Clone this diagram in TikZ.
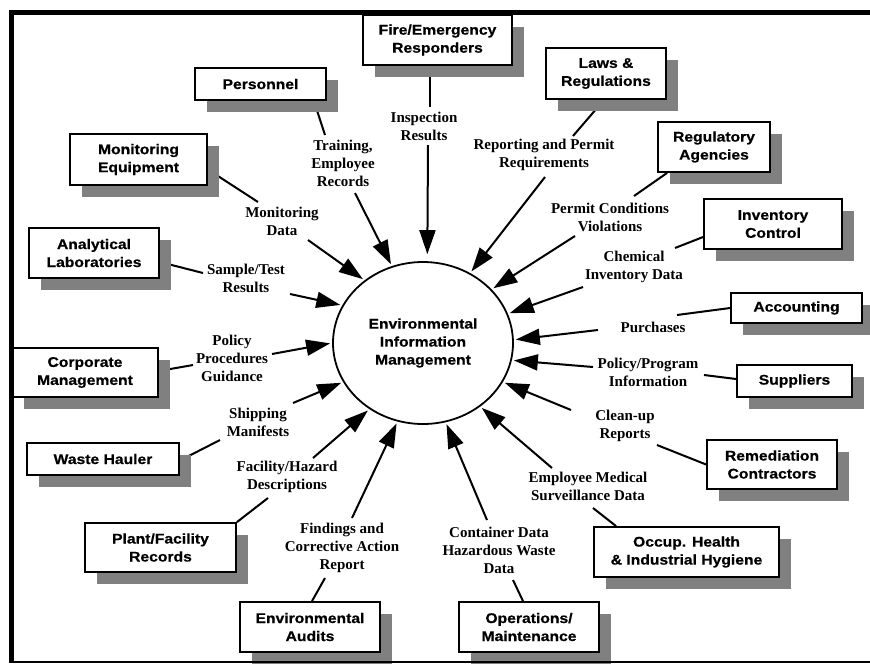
\documentclass[tikz,border=0pt]{standalone}
\usepackage{fontspec}
\setmainfont{Liberation Serif}
\newfontfamily\boxfont{Liberation Sans}[FakeStretch=1.12,FakeBold=0.6]
\usetikzlibrary{arrows.meta,shadows,calc,backgrounds,shapes.geometric}
\tikzset{
  ebox/.style={draw, line width=1.8pt, fill=white, align=center, inner sep=0pt,
    font=\boxfont\bfseries\fontsize{14}{18}\selectfont,
    drop shadow={shadow xshift=12pt, shadow yshift=-12pt, fill=black!50, opacity=1}},
  lab/.style={align=center, inner sep=0pt, font=\bfseries\fontsize{15}{18}\selectfont},
  conn/.style={line width=2pt},
  arr/.style={line width=2pt, -{Triangle[length=24pt,width=16pt]}, shorten >=2pt}
}
\begin{document}
\begin{tikzpicture}[x=1pt,y=-1pt]
\useasboundingbox (0,0) rectangle (870,665);
% central process
\node[draw, ellipse, line width=1.8pt, minimum width=180pt, minimum height=162pt, inner sep=0pt,
  align=center, font=\boxfont\bfseries\fontsize{14}{18}\selectfont] (eim) at (423,343)
  {Environmental\\Information\\Management};
% external entities
\node[ebox, minimum width=149pt, minimum height=50pt] (fire) at (437.5,40) {Fire/Emergency\\Responders};
\node[ebox, minimum width=131pt, minimum height=32pt] (pers) at (260.5,84) {Personnel};
\node[ebox, minimum width=137pt, minimum height=51pt] (mon) at (138.5,159.5) {Monitoring\\Equipment};
\node[ebox, minimum width=130pt, minimum height=50pt] (anal) at (94,253) {Analytical\\Laboratories};
\node[ebox, minimum width=120pt, minimum height=51pt] (laws) at (606,73.5) {Laws \&\\Regulations};
\node[ebox, minimum width=112pt, minimum height=50pt] (reg) at (714,147) {Regulatory\\Agencies};
\node[ebox, minimum width=138pt, minimum height=50pt] (inv) at (773,224) {Inventory\\Control};
\node[ebox, minimum width=131pt, minimum height=30pt] (acct) at (796.5,308) {Accounting};
\node[ebox, minimum width=115pt, minimum height=32pt] (supp) at (794.5,381) {Suppliers};
\node[ebox, minimum width=130pt, minimum height=49pt] (rem) at (772,464.5) {Remediation\\Contractors};
\node[ebox, minimum width=185pt, minimum height=50pt] (occ) at (686.5,552) {Occup. Health\\\& Industrial Hygiene};
\node[ebox, minimum width=140pt, minimum height=50pt] (ops) at (529,627) {Operations/\\Maintenance};
\node[ebox, minimum width=146pt, minimum height=49pt] (corp) at (85,372.5) {Corporate\\Management};
\node[ebox, minimum width=152pt, minimum height=32pt] (waste) at (103,459) {Waste Hauler};
\node[ebox, minimum width=151pt, minimum height=49pt] (plant) at (160.5,547.5) {Plant/Facility\\Records};
\node[ebox, minimum width=140pt, minimum height=50pt] (audit) at (310,627) {Environmental\\Audits};
% flow labels
\node[lab] (insp) at (424,126) {Inspection\\Results};
\node[lab] (train) at (343,163) {Training,\\Employee\\Records};
\node[lab] (mdata) at (282,221) {Monitoring\\Data};
\node[lab] (sample) at (246,278) {Sample/Test\\Results};
\node[lab] (pol) at (232,358) {Policy\\Procedures\\Guidance};
\node[lab] (ship) at (258,422) {Shipping\\Manifests};
\node[lab] (fac) at (287,477) {Facility/Hazard\\Descriptions};
\node[lab] (find) at (342,548) {Findings and\\Corrective Action\\Report};
\node[lab] (cont) at (499,550) {Container Data\\Hazardous Waste\\Data};
\node[lab] (emp) at (588,486) {Employee Medical\\Surveillance Data};
\node[lab] (clean) at (625,426) {Clean-up\\Reports};
\node[lab] (pp) at (648,372) {Policy/Program\\Information};
\node[lab] (purch) at (653,327) {Purchases};
\node[lab] (chem) at (634,267) {Chemical\\Inventory Data};
\node[lab] (perm) at (610,217) {Permit Conditions\\Violations};
\node[lab] (rep) at (544,155) {Reporting and Permit\\Requirements};
% connectors
\begin{scope}[on background layer]
\draw[conn] ($(fire.south)+(-7.5,0)$) -- ($(insp)+(6,-19)$);
\draw[arr, shorten >=7pt] ($(insp)+(4,19)$) -- (eim.87);
\draw[conn] ($(pers.south east)+(-13,0)$) -- ($(train)+(-18,-28)$);
\draw[arr] ($(train)+(12,30)$) -- (eim.112);
\draw[conn] ($(mon.east)+(0,10)$) -- ($(mdata)+(-24,-19)$);
\draw[arr] ($(mdata)+(26,19)$) -- (eim.133);
\draw[conn] ($(anal.east)+(0,9)$) -- ($(sample)+(-43,-5)$);
\draw[arr] ($(sample)+(44,16)$) -- (eim.155);
\draw[conn] ($(corp.east)+(0,-1.5)$) -- ($(pol)+(-39,7)$);
\draw[arr] ($(pol)+(40,-4)$) -- (eim.180);
\draw[conn] ($(waste.east)+(0,1.5)$) -- ($(ship)+(-38,18)$);
\draw[arr] ($(ship)+(35,-19)$) -- (eim.206);
\draw[conn] (plant.north east) -- ($(fac)+(-19,21)$);
\draw[arr] ($(fac)+(26,-19)$) -- (eim.231);
\draw[conn] ($(audit.north)+(2,0)$) -- ($(find)+(-17,30)$);
\draw[arr] ($(find)+(10,-30)$) -- (eim.252);
\draw[conn] ($(ops.north)+(-6,0)$) -- ($(cont)+(14,30)$);
\draw[arr] ($(cont)+(-12,-30)$) -- (eim.286);
\draw[conn] ($(occ.north west)+(23,0)$) -- ($(emp)+(5,22)$);
\draw[arr] ($(emp)+(-36,-18)$) -- (eim.312);
\draw[conn] (rem.west) -- ($(clean)+(32,19)$);
\draw[arr] ($(clean)+(-54,-16)$) -- (eim.334);
\draw[conn] ($(supp.west)+(0,-2)$) -- ($(pp)+(56,3)$);
\draw[arr] ($(pp)+(-55,-5)$) -- (eim.349);
\draw[conn] (acct.west) -- ($(purch)+(24,-12)$);
\draw[arr] ($(purch)+(-55,3)$) -- (eim.2);
\draw[conn] ($(inv.west)+(0,13)$) -- ($(chem)+(41,-19)$);
\draw[arr] ($(chem)+(-51,20)$) -- (eim.19);
\draw[conn] ($(reg.south west)+(10,0)$) -- ($(perm)+(24,-21)$);
\draw[arr] ($(perm)+(-35,19)$) -- (eim.38);
\draw[conn] ($(laws.south)+(-2,0)$) -- ($(rep)+(29,-19)$);
\draw[arr] ($(rep)+(1,22)$) -- (eim.56);
\end{scope}
% page frame
\draw[line width=5pt] (870,12.5) -- (11.5,12.5) -- (11.5,662);
\draw[line width=2pt] (9,662) -- (870,662);
\end{tikzpicture}
\end{document}
